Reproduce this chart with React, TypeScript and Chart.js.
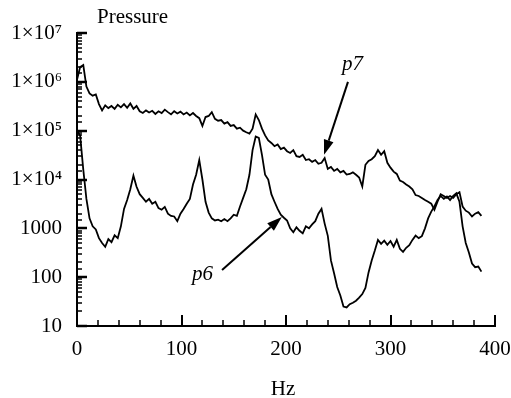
import React, { useEffect, useRef } from "react";
import { Chart, registerables } from "chart.js";

Chart.register(...registerables);

// Frequency grid (Hz)
const hz = [
  0, 3, 6, 9, 12, 15, 18, 21, 24, 27,
  30, 33, 36, 39, 42, 45, 48, 51, 54, 57,
  60, 63, 66, 69, 72, 75, 78, 81, 84, 87,
  90, 93, 96, 99, 102, 105, 108, 111, 114, 117,
  120, 123, 126, 129, 132, 135, 138, 141, 144, 147,
  150, 153, 156, 159, 162, 165, 168, 171, 174, 177,
  180, 183, 186, 189, 192, 195, 198, 201, 204, 207,
  210, 213, 216, 219, 222, 225, 228, 231, 234, 237,
  240, 243, 246, 249, 252, 255, 258, 261, 264, 267,
  270, 273, 276, 279, 282, 285, 288, 291, 294, 297,
  300, 303, 306, 309, 312, 315, 318, 321, 324, 327,
  330, 333, 336, 339, 342, 345, 348, 351, 354, 357,
  360, 363, 366, 369, 372, 375, 378, 381, 384, 387,
];

// Pressure spectrum p7
const p7 = [
  1.1e6, 2.0e6, 2.2e6, 8.0e5, 5.8e5, 5.2e5, 5.5e5, 3.5e5, 2.6e5, 3.3e5,
  2.9e5, 3.2e5, 2.8e5, 3.4e5, 3.0e5, 3.5e5, 2.95e5, 3.6e5, 2.8e5, 3.2e5,
  2.5e5, 2.3e5, 2.6e5, 2.35e5, 2.55e5, 2.2e5, 2.5e5, 2.3e5, 2.7e5, 2.4e5,
  2.15e5, 2.5e5, 2.25e5, 2.45e5, 2.15e5, 2.35e5, 2.05e5, 2.3e5, 2.0e5, 1.8e5,
  1.25e5, 1.9e5, 2.0e5, 2.4e5, 1.75e5, 1.6e5, 1.65e5, 1.4e5, 1.5e5, 1.25e5,
  1.3e5, 1.1e5, 1.15e5, 1.0e5, 9.3e4, 8.7e4, 1.1e5, 2.15e5, 1.65e5, 1.1e5,
  8.0e4, 6.3e4, 5.6e4, 4.8e4, 5.2e4, 4.2e4, 4.5e4, 3.8e4, 3.5e4, 4.0e4,
  3.0e4, 2.9e4, 3.2e4, 2.5e4, 2.6e4, 2.3e4, 2.5e4, 2.1e4, 2.2e4, 2.75e4,
  1.65e4, 1.8e4, 1.5e4, 1.65e4, 1.4e4, 1.5e4, 1.26e4, 1.3e4, 1.4e4, 1.25e4,
  1.1e4, 7.2e3, 2.0e4, 2.4e4, 2.6e4, 3.0e4, 4.0e4, 3.2e4, 3.8e4, 2.2e4,
  1.75e4, 1.45e4, 1.3e4, 9.5e3, 8.9e3, 7.9e3, 7.2e3, 6.3e3, 4.8e3, 4.6e3,
  4.2e3, 3.8e3, 3.5e3, 3.2e3, 2.4e3, 3.5e3, 5.0e3, 4.6e3, 4.2e3, 4.6e3,
  4.2e3, 5.0e3, 5.5e3, 2.8e3, 2.3e3, 2.1e3, 1.75e3, 2.0e3, 2.15e3, 1.8e3,
];

// Pressure spectrum p6
const p6 = [
  1.0e5, 7.9e4, 1.6e4, 4.0e3, 1.6e3, 1.1e3, 950, 630, 500, 420,
  600, 520, 720, 630, 1.1e3, 2.5e3, 3.8e3, 6.3e3, 1.2e4, 7.1e3,
  5.0e3, 4.2e3, 3.5e3, 4.0e3, 3.2e3, 3.5e3, 2.6e3, 2.4e3, 2.75e3, 2.0e3,
  1.8e3, 1.75e3, 1.4e3, 2.0e3, 2.5e3, 3.2e3, 4.0e3, 7.9e3, 1.25e4, 2.5e4,
  1.0e4, 3.5e3, 2.1e3, 1.6e3, 1.45e3, 1.5e3, 1.4e3, 1.55e3, 1.4e3, 1.6e3,
  1.9e3, 1.8e3, 2.8e3, 4.2e3, 6.3e3, 1.25e4, 4.0e4, 7.6e4, 7.1e4, 3.2e4,
  1.25e4, 1.0e4, 5.0e3, 3.5e3, 2.5e3, 1.9e3, 1.65e3, 1.45e3, 1.0e3, 830,
  1.05e3, 890, 790, 1.1e3, 1.0e3, 1.2e3, 1.4e3, 2.0e3, 2.5e3, 1.25e3,
  700, 220, 120, 63, 42, 25, 24, 28, 30, 33,
  38, 45, 60, 125, 220, 350, 580, 480, 560, 460,
  550, 420, 580, 380, 330, 400, 450, 580, 710, 630,
  690, 1.0e3, 1.6e3, 2.2e3, 2.8e3, 3.8e3, 4.6e3, 4.0e3, 4.5e3, 3.8e3,
  4.6e3, 5.2e3, 3.5e3, 1.1e3, 500, 320, 190, 160, 165, 130,
];

const yTickValues = [10, 100, 1000, 1e4, 1e5, 1e6, 1e7];
const yTickLabels = ["10", "100", "1000", "1×10⁴", "1×10⁵", "1×10⁶", "1×10⁷"];
const yTitle = "Pressure";
const xTitle = "Hz";

// Annotation labels with arrows (data coordinates: Hz, pressure)
const annotations = [
  { text: "p7", at: [253.6, 1.75e6], from: [259.3, 1.0e6], to: [236.4, 3.2e4] },
  { text: "p6", at: [110, 87], from: [138.8, 140], to: [196, 1.7e3] },
];

const FONT = "'Liberation Serif', 'Times New Roman', Times, serif";
const FS = 21;

const decorPlugin = {
  id: "decor",
  afterDraw(chart: any) {
    const ctx = chart.ctx;
    const { left, right, top, bottom } = chart.chartArea;
    const xs = chart.scales.x;
    const ys = chart.scales.y;
    ctx.save();
    ctx.strokeStyle = "#000";
    ctx.fillStyle = "#000";
    ctx.lineCap = "butt";

    // inward y ticks
    ys.ticks.forEach((t: any) => {
      const y = Math.round(ys.getPixelForValue(t.value));
      const lg = Math.log10(t.value);
      const major = Math.abs(lg - Math.round(lg)) < 1e-9;
      ctx.lineWidth = major ? 2.5 : 1.5;
      ctx.beginPath();
      ctx.moveTo(left, y);
      ctx.lineTo(left + (major ? 10 : 5), y);
      ctx.stroke();
    });
    // inward x ticks
    xs.ticks.forEach((t: any) => {
      const x = Math.round(xs.getPixelForValue(t.value));
      const major = t.value % 100 === 0;
      ctx.lineWidth = major ? 2 : 1.5;
      ctx.beginPath();
      ctx.moveTo(x, bottom);
      ctx.lineTo(x, bottom - (major ? 11 : 6));
      ctx.stroke();
    });

    // titles
    ctx.font = `${FS}px ${FONT}`;
    ctx.textAlign = "left";
    ctx.textBaseline = "alphabetic";
    ctx.fillText(yTitle, left + 20, top - 10);
    ctx.textAlign = "center";
    ctx.fillText(xTitle, (left + right) / 2 - 3, bottom + 69);

    // annotations
    annotations.forEach((a) => {
      ctx.font = `italic ${FS}px ${FONT}`;
      ctx.textAlign = "left";
      ctx.textBaseline = "alphabetic";
      ctx.fillText(a.text, xs.getPixelForValue(a.at[0]), ys.getPixelForValue(a.at[1]));
      const x1 = xs.getPixelForValue(a.from[0]);
      const y1 = ys.getPixelForValue(a.from[1]);
      const x2 = xs.getPixelForValue(a.to[0]);
      const y2 = ys.getPixelForValue(a.to[1]);
      const ang = Math.atan2(y2 - y1, x2 - x1);
      const headLen = 15;
      const headW = 5;
      const bx = x2 - headLen * Math.cos(ang);
      const by = y2 - headLen * Math.sin(ang);
      ctx.lineWidth = 2;
      ctx.beginPath();
      ctx.moveTo(x1, y1);
      ctx.lineTo(bx, by);
      ctx.stroke();
      ctx.beginPath();
      ctx.moveTo(x2, y2);
      ctx.lineTo(bx + headW * Math.sin(ang), by - headW * Math.cos(ang));
      ctx.lineTo(bx - headW * Math.sin(ang), by + headW * Math.cos(ang));
      ctx.closePath();
      ctx.fill();
    });
    ctx.restore();
  },
};

export default function App() {
  const ref = useRef<HTMLCanvasElement | null>(null);

  useEffect(() => {
    if (!ref.current) return;
    const chart = new Chart(ref.current, {
      type: "line",
      data: {
        datasets: [
          {
            label: "p7",
            data: hz.map((x, i) => ({ x, y: p7[i] })),
            borderColor: "#000",
            borderWidth: 1.8,
            pointRadius: 0,
            tension: 0,
            fill: false,
          },
          {
            label: "p6",
            data: hz.map((x, i) => ({ x, y: p6[i] })),
            borderColor: "#000",
            borderWidth: 1.8,
            pointRadius: 0,
            tension: 0,
            fill: false,
          },
        ],
      },
      options: {
        responsive: false,
        animation: false,
        devicePixelRatio: 1,
        layout: { padding: { top: 33, right: 16, left: 0, bottom: 0 } },
        plugins: {
          legend: { display: false },
          tooltip: { enabled: false },
        },
        scales: {
          x: {
            type: "linear",
            min: 0,
            max: 400,
            afterFit: (s: any) => {
              s.height = 72;
              s.paddingLeft = 0;
              s.paddingRight = 0;
            },
            grid: { display: false, drawTicks: false },
            border: { display: true, color: "#000", width: 2 },
            ticks: {
              stepSize: 20,
              autoSkip: false,
              maxRotation: 0,
              padding: 11,
              color: "#000",
              font: { family: FONT, size: FS },
              callback: (v: any) => (Number(v) % 100 === 0 ? String(v) : ""),
            },
          },
          y: {
            type: "logarithmic",
            min: 10,
            max: 1e7,
            afterFit: (s: any) => {
              s.width = 77;
              s.paddingTop = 0;
              s.paddingBottom = 0;
            },
            grid: { display: false, drawTicks: false },
            border: { display: true, color: "#000", width: 2 },
            ticks: {
              autoSkip: false,
              padding: 15,
              color: "#000",
              font: { family: FONT, size: FS },
              callback: (v: any) => {
                const n = Number(v);
                const i = yTickValues.findIndex((t) => Math.abs(t - n) / t < 1e-9);
                return i >= 0 ? yTickLabels[i] : "";
              },
            },
          },
        },
      },
      plugins: [decorPlugin],
    });
    return () => chart.destroy();
  }, []);

  return (
    <div style={{ position: "absolute", left: 0, top: 0, width: 511, height: 398, background: "#fff" }}>
      <canvas ref={ref} width={511} height={398} style={{ display: "block" }} />
    </div>
  );
}
